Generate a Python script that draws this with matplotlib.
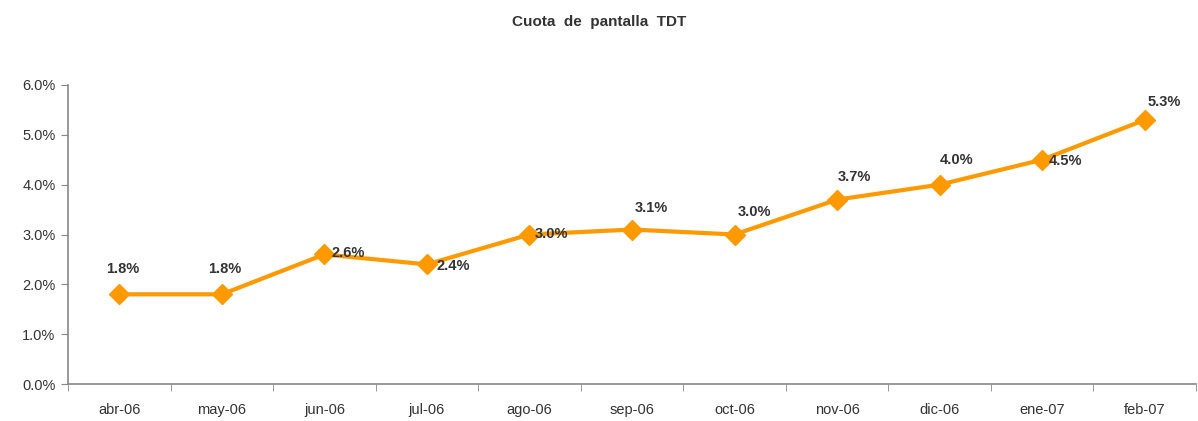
import matplotlib.pyplot as plt
from matplotlib.ticker import FuncFormatter, FixedLocator

meses = ["abr-06", "may-06", "jun-06", "jul-06", "ago-06", "sep-06",
         "oct-06", "nov-06", "dic-06", "ene-07", "feb-07"]
cuota = [1.8, 1.8, 2.6, 2.4, 3.0, 3.1, 3.0, 3.7, 4.0, 4.5, 5.3]
# desplazamiento de cada etiqueta (pixeles)
offsets = [(3, 25), (3, 25), (24, 1), (26, -2), (22, 0), (19, 22),
           (20, 22), (17, 23), (17, 25), (23, -1), (20, 18)]

plt.rcParams["font.family"] = ["Liberation Sans", "DejaVu Sans"]

fig = plt.figure(figsize=(11.98, 4.21), dpi=100)
ax = fig.add_axes([68 / 1198, 37 / 421, 1128 / 1198, 299 / 421])

x = list(range(len(meses)))
ax.plot(x, cuota, color="#FF9900", lw=3, marker="D", markersize=10, zorder=3)

for xi, v, (dx, dy) in zip(x, cuota, offsets):
    ax.annotate(f"{v:.1f}%", (xi, v), xytext=(dx * 0.72, dy * 0.72),
                textcoords="offset points", ha="center", va="center",
                fontsize=10.5, fontweight="bold", color="#333333")

ax.set_xlim(-0.5, len(meses) - 0.5)
ax.set_ylim(0, 6)
ax.set_yticks([0, 1, 2, 3, 4, 5, 6])
ax.yaxis.set_major_formatter(FuncFormatter(lambda v, p: f"{v:.1f}%"))
ax.set_xticks(x)
ax.set_xticklabels(meses)
ax.tick_params(axis="x", which="major", length=0, pad=14)
ax.xaxis.set_minor_locator(FixedLocator([i - 0.5 for i in range(len(meses) + 1)]))
ax.tick_params(axis="x", which="minor", length=5, color="#888888")
ax.tick_params(axis="y", length=5, color="#888888", pad=4)
ax.tick_params(labelsize=10.5, labelcolor="#333333")

for s in ["top", "right"]:
    ax.spines[s].set_visible(False)
for s in ["left", "bottom"]:
    ax.spines[s].set_color("#888888")
    ax.spines[s].set_linewidth(1.2)

fig.text(0.5, 1 - 22 / 421, "Cuota  de  pantalla  TDT", ha="center", va="center",
         fontsize=11, fontweight="bold", color="#333333")

fig.savefig("out.png", dpi=100)
